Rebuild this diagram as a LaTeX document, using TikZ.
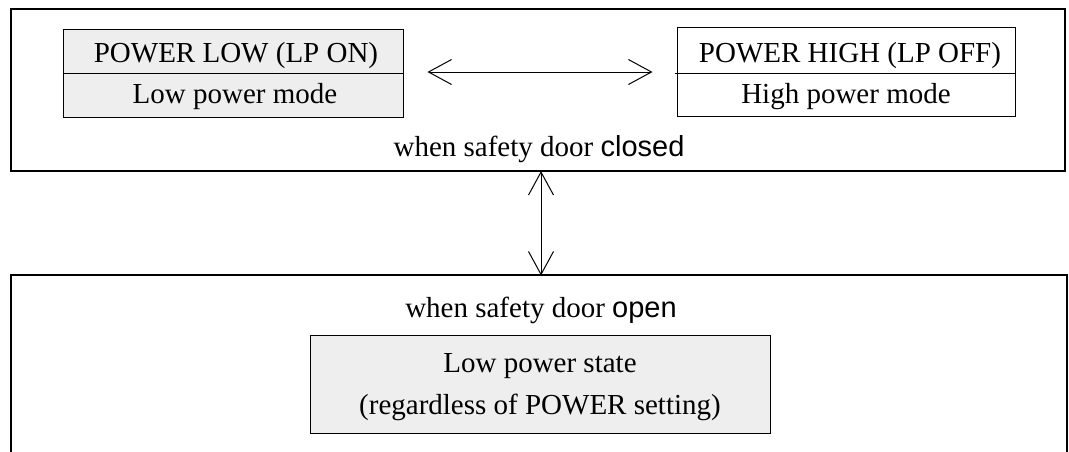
\documentclass[tikz,border=0pt]{standalone}
\usepackage{fontspec}
\setmainfont{Liberation Serif}
\newfontfamily\sansword{Liberation Sans}
\usetikzlibrary{arrows.meta}
\definecolor{boxgray}{HTML}{EEEEEE}
\tikzset{
  frame/.style={draw=black, line width=2.8pt},
  statebox/.style={draw=black, line width=1pt, rectangle, inner sep=0pt},
  label/.style={anchor=base, inner sep=0pt, font=\fontsize{29}{34}\selectfont},
  link/.style={line width=1pt, {Straight Barb[length=23pt, width=25pt, line width=1pt]}-{Straight Barb[length=23pt, width=25pt, line width=1pt]}},
}
\begin{document}
\begin{tikzpicture}[x=1pt, y=-1pt]
  \useasboundingbox (0,0) rectangle (1069,451);

  % upper frame: door closed
  \node[frame, rectangle, inner sep=0pt, minimum width=1054pt, minimum height=162pt] (closedframe) at (538,90) {};

  % state boxes inside the upper frame
  \node[statebox, fill=boxgray, minimum width=340pt, minimum height=88pt] (lowbox) at (233,73) {};
  \draw[line width=1pt] (lowbox.west |- 0,73) -- (lowbox.east |- 0,73);
  \node[label] (lowtitle) at (236,62) {POWER LOW (LP ON)};
  \node[label] (lowmode) at (235,103) {Low power mode};

  \node[statebox, fill=white, minimum width=338pt, minimum height=89pt] (highbox) at (846,71.5) {};
  \draw[line width=1pt] (675,73) -- (highbox.east |- 0,73);
  \node[label] (hightitle) at (850,62) {POWER HIGH (LP OFF)};
  \node[label] (highmode) at (846,103) {High power mode};

  \draw[link, shorten <=24pt, shorten >=24pt] (lowbox.east |- 0,72) -- (highbox.west |- 0,72);

  \node[label] (closedtext) at (539,156) {when safety door {\sansword closed}};

  % lower frame: door open (runs off the bottom edge)
  \coordinate (openbl) at (11,460);
  \coordinate (opentl) at (11,275);
  \coordinate (opentr) at (1067,275);
  \coordinate (openbr) at (1067,460);
  \draw[frame] (openbl) -- (opentl) -- (opentr) -- (openbr);

  \coordinate (arrowtop) at (541,171);
  \coordinate (arrowbot) at (541,275.5);
  \draw[link] (arrowtop) -- (arrowbot);

  \node[label] (opentext) at (541,317) {when safety door {\sansword open}};

  \node[statebox, fill=boxgray, minimum width=460pt, minimum height=98pt] (openbox) at (540,384) {};
  \node[label] (openstate) at (540,372) {Low power state};
  \node[label] (opennote) at (540,414) {(regardless of POWER setting)};
\end{tikzpicture}
\end{document}
